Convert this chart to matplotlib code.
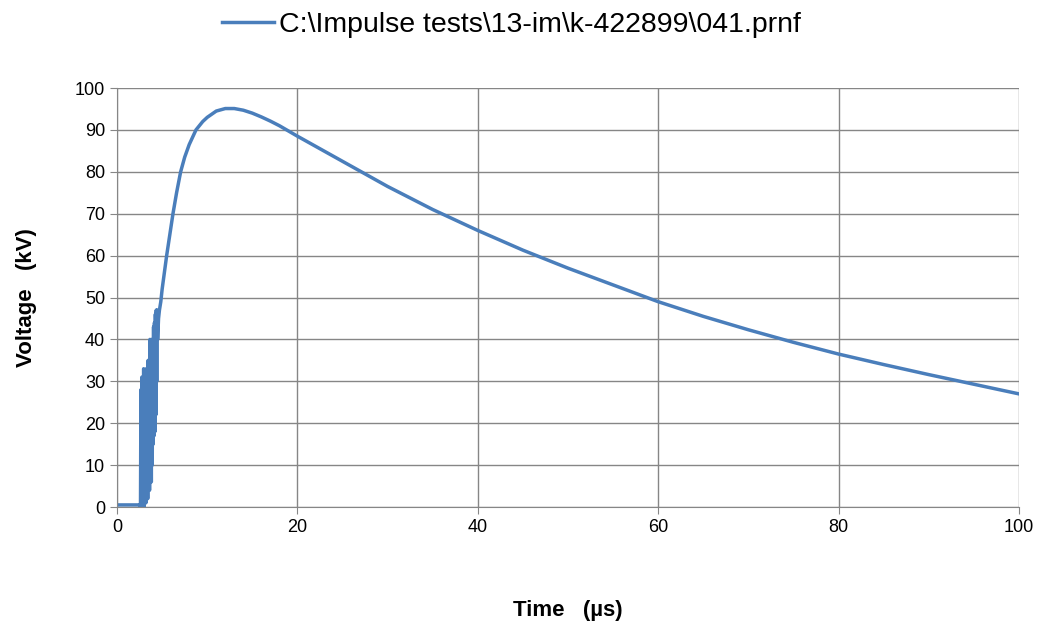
import matplotlib
matplotlib.use("Agg")
import matplotlib.pyplot as plt

# impulse record
time_us = [0, 0.5, 1, 1.5, 2, 2.5,
           2.60, 2.65, 2.70, 2.75, 2.80, 2.85, 2.90, 2.95, 3.00, 3.05,
           3.10, 3.15, 3.20, 3.25, 3.30, 3.35, 3.40, 3.45, 3.50, 3.55,
           3.60, 3.65, 3.70, 3.75, 3.80, 3.85, 3.90, 3.95, 4.00, 4.05,
           4.10, 4.15, 4.20, 4.25, 4.30, 4.35, 4.40, 4.45, 4.50,
           4.6, 4.7, 4.85, 5.0, 5.25, 5.5, 5.85, 6.2, 6.6, 7.05, 7.5, 8, 8.75,
           9.5, 10, 11, 12, 13, 14, 15, 16, 17, 18, 20, 22.5, 25, 27.5, 30,
           35, 40, 45, 50, 55, 60, 65, 70, 75, 80, 85, 90, 95, 100]
voltage_kv = [0.5, 0.5, 0.5, 0.5, 0.5, 0.5,
              0, 28, 0, 31, 0, 30, 1, 33, 0, 32,
              2, 30, 1, 33, 3, 30, 2, 35, 5, 33,
              4, 40, 8, 36, 6, 40, 10, 38, 15, 43,
              17, 44, 18, 46, 22, 47, 30, 47, 40,
              45, 47, 49, 52, 56, 60, 65, 70, 75, 80, 83.5, 86.5, 90,
              92, 93, 94.5, 95.1, 95.1, 94.7, 94, 93.1, 92.1, 91, 88.5, 85.5, 82.5, 79.5, 76.5,
              71, 66, 61.3, 57, 53, 49, 45.5, 42.3, 39.3, 36.5, 34, 31.6, 29.3, 27]

legend_label = "C:\\Impulse tests\\13-im\\k-422899\\041.prnf"
x_ticks = [0, 20, 40, 60, 80, 100]
y_ticks = list(range(0, 101, 10))

plt.rcParams['font.family'] = ['Liberation Sans', 'DejaVu Sans']

fig = plt.figure(figsize=(10.46, 6.3), dpi=100)
ax = fig.add_axes([0.1119, 0.1952, 0.8623, 0.6651])

line, = ax.plot(time_us, voltage_kv, color='#4a7ebb', linewidth=2.5, label=legend_label)

ax.set_xlim(0, 100)
ax.set_ylim(0, 100)
ax.set_xticks(x_ticks)
ax.set_yticks(y_ticks)
ax.grid(True, color='#868686', linewidth=1.0)
ax.set_axisbelow(True)
for s in ['top', 'right']:
    ax.spines[s].set_visible(False)
for s in ['left', 'bottom']:
    ax.spines[s].set_color('#868686')
ax.tick_params(axis='both', colors='#868686', labelcolor='black', labelsize=13, length=5, direction='out')

ax.set_xlabel("Time   (\u00b5s)", fontsize=16, fontweight='bold', labelpad=46)
ax.set_ylabel("Voltage   (kV)", fontsize=16, fontweight='bold', labelpad=27)

fig.legend(handles=[line], loc='upper center', bbox_to_anchor=(0.489, 1.022),
           frameon=False, fontsize=20.5, handlelength=1.85, handletextpad=0.18)

fig.savefig("out.png", dpi=100)
